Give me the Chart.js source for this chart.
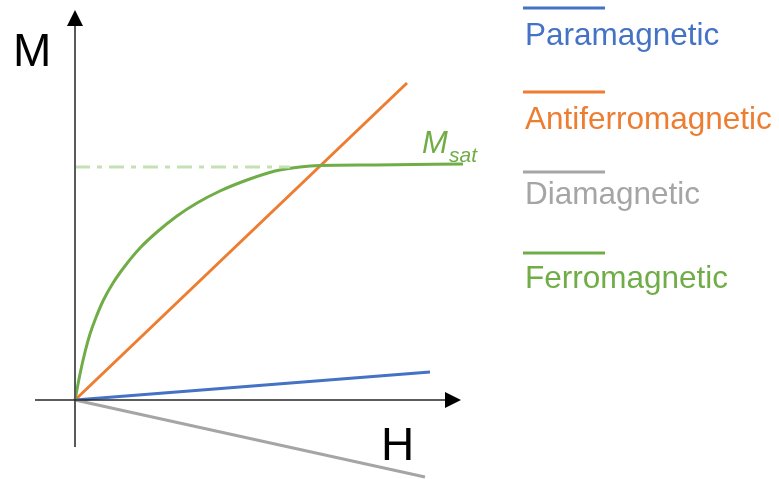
<!DOCTYPE html>
<html>
<head>
<meta charset="utf-8">
<script src="https://cdn.jsdelivr.net/npm/chart.js@4"></script>
<style>
  html, body { margin: 0; padding: 0; background: #fff; }
  #wrap { width: 779px; height: 479px; position: relative; }
</style>
</head>
<body>
<div id="wrap"><canvas id="magChart"></canvas></div>
<script>
// ── DATA (H, M in arbitrary units, origin at 0,0) ──
const seriesNames = ['Paramagnetic', 'Antiferromagnetic', 'Diamagnetic', 'Ferromagnetic'];
const COLORS = ['#4472C4', '#ED7D31', '#A5A5A5', '#70AD47'];

const paraH = [0, 35.5];
const paraM = [0, 2.8];

const antiH = [0, 33.2];
const antiM = [0, 31.7];

const diaH = [0, 35.0];
const diaM = [0, -7.7];

const ferroH = [0, 0.5, 1.0, 1.5, 2.0, 2.8, 3.8, 5.0, 6.5, 8.2, 10.2, 12.2, 14.5, 17.2, 20.0, 22.5, 24.5, 30.0, 38.8];
const ferroM = [0, 2.6, 4.8, 6.6, 8.0, 9.9, 11.7, 13.4, 15.2, 16.8, 18.4, 19.7, 20.9, 22.0, 22.9, 23.3, 23.45, 23.5, 23.6];

const satH = [0, 21.5];
const satM = [23.3, 23.3];

const toPoints = (xs, ys) => xs.map((x, i) => ({ x: x, y: ys[i] }));

// ── AXES + LABELS + LEGEND (custom plugin) ──
const decorPlugin = {
    id: 'decor',
    afterDatasetsDraw(chart) {
        const ctx = chart.ctx;
        const xs = chart.scales.x, ys = chart.scales.y;
        const ox = xs.getPixelForValue(0), oy = ys.getPixelForValue(0);
        ctx.save();

        // y axis
        ctx.strokeStyle = '#595959';
        ctx.lineWidth = 2;
        ctx.beginPath();
        ctx.moveTo(ox, ys.getPixelForValue(-4.7));
        ctx.lineTo(ox, ys.getPixelForValue(37.6));
        ctx.stroke();
        const yTip = ys.getPixelForValue(39.0);
        ctx.fillStyle = '#000';
        ctx.beginPath();
        ctx.moveTo(ox, yTip);
        ctx.lineTo(ox - 8, yTip + 16);
        ctx.lineTo(ox + 8, yTip + 16);
        ctx.closePath();
        ctx.fill();

        // x axis
        ctx.strokeStyle = '#262626';
        ctx.lineWidth = 1.6;
        ctx.beginPath();
        ctx.moveTo(xs.getPixelForValue(-4.0), oy);
        ctx.lineTo(xs.getPixelForValue(37.2), oy);
        ctx.stroke();
        const xTip = xs.getPixelForValue(38.6);
        ctx.beginPath();
        ctx.moveTo(xTip, oy);
        ctx.lineTo(xTip - 16, oy - 8);
        ctx.lineTo(xTip - 16, oy + 8);
        ctx.closePath();
        ctx.fill();

        // axis titles
        ctx.fillStyle = '#000';
        ctx.textBaseline = 'alphabetic';
        ctx.textAlign = 'left';
        ctx.font = '46px "Liberation Sans", Arial, sans-serif';
        ctx.fillText('M', 13, 66);
        ctx.fillText('H', 381, 460);

        // M_sat label
        ctx.fillStyle = COLORS[3];
        ctx.font = 'italic 31px "Liberation Sans", Arial, sans-serif';
        ctx.fillText('M', 422, 153);
        ctx.font = 'italic 21px "Liberation Sans", Arial, sans-serif';
        ctx.fillText('sat', 449, 162);

        // legend: line above label
        const lineY = [8, 92, 172, 253];
        const textY = [45, 129, 204, 288];
        ctx.font = '31.5px "Liberation Sans", Arial, sans-serif';
        seriesNames.forEach((name, i) => {
            ctx.strokeStyle = COLORS[i];
            ctx.lineWidth = 3;
            ctx.beginPath();
            ctx.moveTo(523, lineY[i]);
            ctx.lineTo(605, lineY[i]);
            ctx.stroke();
            ctx.fillStyle = COLORS[i];
            ctx.fillText(name, 525, textY[i]);
        });

        ctx.restore();
    }
};

const lineDs = (label, data, color, extra) => Object.assign({
    label: label,
    data: data,
    showLine: true,
    borderColor: color,
    backgroundColor: color,
    borderWidth: 3,
    pointRadius: 0,
    fill: false
}, extra || {});

new Chart(document.getElementById('magChart'), {
    type: 'scatter',
    data: {
        datasets: [
            lineDs('Msat', toPoints(satH, satM), '#C5E0B4', { borderDash: [15, 7, 5, 7] }),
            lineDs(seriesNames[3], toPoints(ferroH, ferroM), COLORS[3], { cubicInterpolationMode: 'monotone' }),
            lineDs(seriesNames[2], toPoints(diaH, diaM), COLORS[2]),
            lineDs(seriesNames[0], toPoints(paraH, paraM), COLORS[0]),
            lineDs(seriesNames[1], toPoints(antiH, antiM), COLORS[1])
        ]
    },
    options: {
        responsive: true,
        maintainAspectRatio: false,
        animation: false,
        layout: { padding: 0 },
        plugins: { legend: { display: false }, tooltip: { enabled: false } },
        scales: {
            x: { type: 'linear', min: -7.5, max: 70.4, display: false },
            y: { type: 'linear', min: -7.9, max: 40.0, display: false }
        }
    },
    plugins: [decorPlugin]
});
</script>
</body>
</html>
